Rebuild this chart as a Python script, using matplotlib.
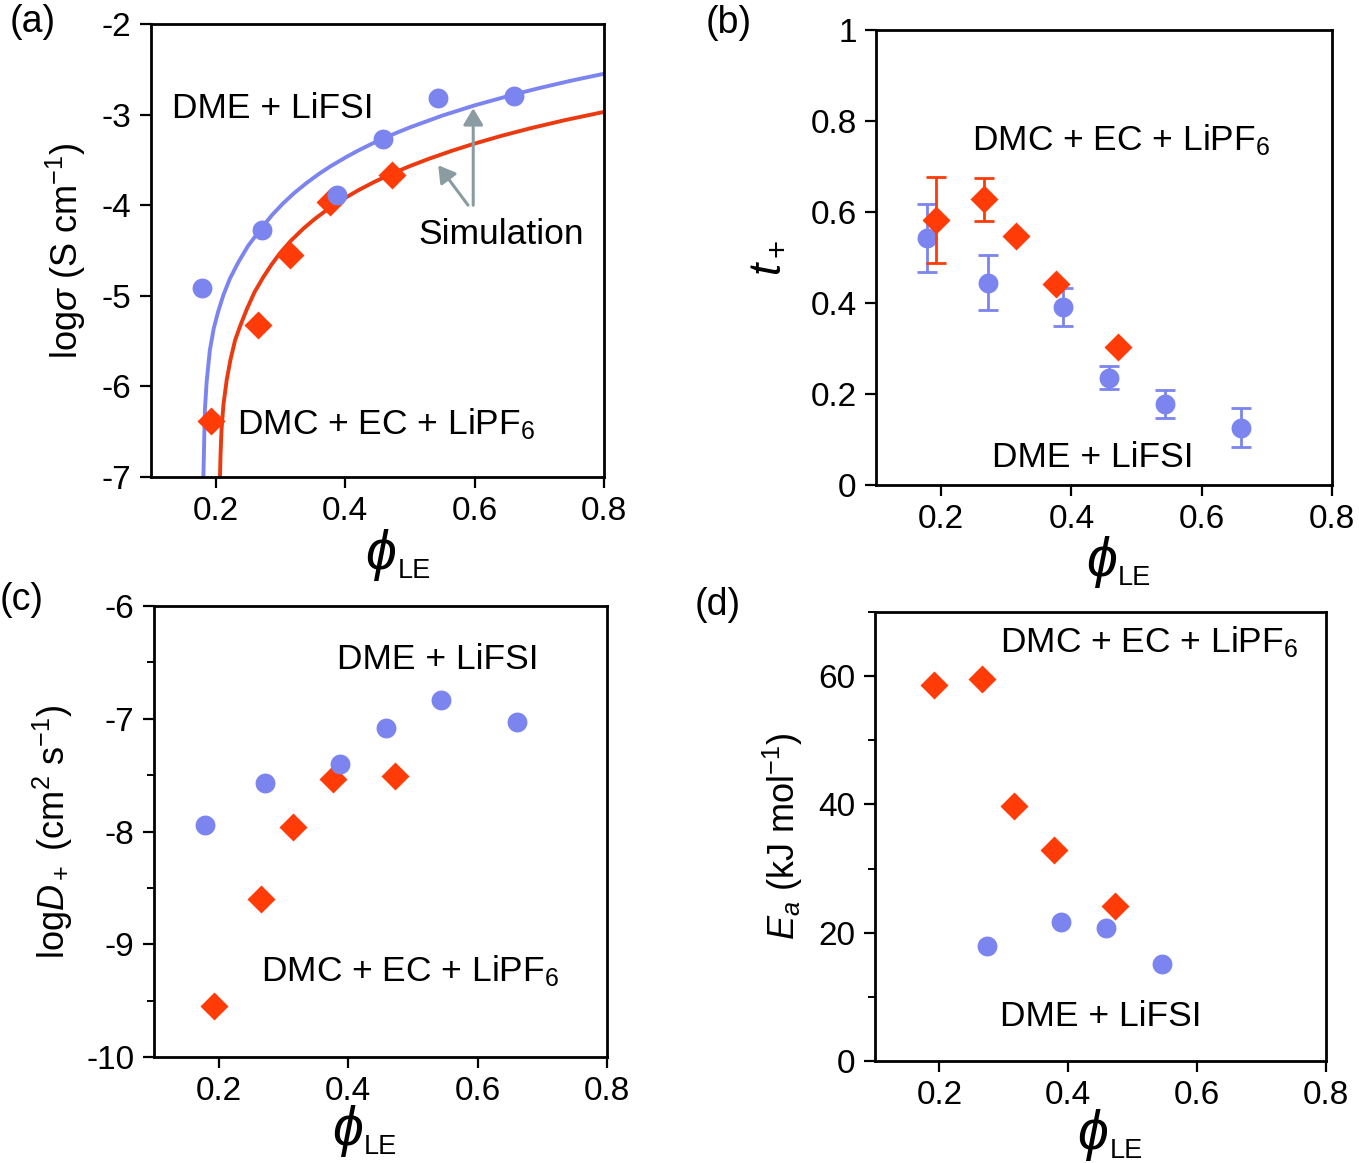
import matplotlib
matplotlib.use('Agg')
import matplotlib.pyplot as plt
from matplotlib.ticker import MultipleLocator

plt.rcParams['font.family'] = ['Liberation Sans', 'DejaVu Sans']
plt.rcParams['mathtext.fontset'] = 'custom'
plt.rcParams['mathtext.rm'] = 'Liberation Sans'
plt.rcParams['mathtext.it'] = 'Liberation Sans:italic'
plt.rcParams['mathtext.bf'] = 'Liberation Sans:bold'
plt.rcParams['axes.unicode_minus'] = False

# Farben
blau = '#7b84ef'
rot = '#ff3b08'
rot_linie = '#ec3a10'
grau = '#8a9ca1'

# Volumenanteil phi_LE der beiden Elektrolyte
phi_dme = [0.179, 0.272, 0.387, 0.458, 0.544, 0.661]
phi_dmc = [0.192, 0.266, 0.315, 0.377, 0.472]

# (a) Leitfaehigkeit log sigma
logsig_dme = [-4.91, -4.27, -3.89, -3.27, -2.82, -2.80]
logsig_dmc = [-6.38, -5.32, -4.55, -3.96, -3.67]

# (a) Simulationskurven
sim_phi_dme = [0.1805, 0.181, 0.1825, 0.1834, 0.186, 0.191, 0.197, 0.204, 0.212, 0.222,
               0.235, 0.250, 0.271, 0.287, 0.304, 0.322, 0.341, 0.360, 0.377, 0.400,
               0.420, 0.440, 0.459, 0.480, 0.500, 0.550, 0.600, 0.660, 0.700, 0.750,
               0.800]
sim_sig_dme = [-7.2, -7.0, -6.5, -6.25, -5.95, -5.60, -5.36, -5.17, -4.99, -4.81,
               -4.63, -4.45, -4.250, -4.110, -3.981, -3.862, -3.752, -3.653, -3.573, -3.476,
               -3.398, -3.327, -3.264, -3.200, -3.142, -3.012, -2.899, -2.780, -2.708, -2.625,
               -2.550]
sim_phi_dmc = [0.2063, 0.2066, 0.2075, 0.209, 0.212, 0.217, 0.223, 0.230, 0.238, 0.248,
               0.260, 0.274, 0.286, 0.299, 0.316, 0.335, 0.353, 0.372, 0.395, 0.420,
               0.445, 0.472, 0.500, 0.530, 0.565, 0.598, 0.640, 0.686, 0.740, 0.800]
sim_sig_dmc = [-7.2, -7.0, -6.75, -6.48, -6.2, -5.93, -5.70, -5.49, -5.33, -5.15,
               -4.96, -4.79, -4.659, -4.533, -4.394, -4.262, -4.153, -4.051, -3.942, -3.837,
               -3.744, -3.654, -3.569, -3.487, -3.400, -3.325, -3.238, -3.152, -3.061, -2.971]

# (b) Ueberfuehrungszahl t+
t_dme = [0.543, 0.445, 0.391, 0.236, 0.178, 0.126]
t_dme_err = [0.075, 0.06, 0.042, 0.025, 0.03, 0.043]
t_dmc = [0.582, 0.628, 0.548, 0.441, 0.304]
t_dmc_err = [0.094, 0.047, 0.0, 0.0, 0.0]

# (c) Diffusionskoeffizient log D+
logD_dme = [-7.94, -7.57, -7.40, -7.08, -6.83, -7.03]
logD_dmc = [-9.55, -8.60, -7.96, -7.53, -7.51]

# (d) Aktivierungsenergie Ea
phi_dme_ea = [0.274, 0.388, 0.459, 0.545]
ea_dme = [18.0, 21.7, 20.7, 15.2]
ea_dmc = [58.6, 59.5, 39.7, 32.9, 24.2]

x_ticks = [0.2, 0.4, 0.6, 0.8]
x_ticklabels = ['0.2', '0.4', '0.6', '0.8']
t_ticks = [0, 0.2, 0.4, 0.6, 0.8, 1]
t_ticklabels = ['0', '0.2', '0.4', '0.6', '0.8', '1']

fs_tick = 24
fs_text = 25.5
fs_label = 26
ms = 14.3

fig = plt.figure(figsize=(13.59, 11.63), dpi=100)
ax_a = fig.add_axes([0.1111, 0.5899, 0.3333, 0.3895])
ax_b = fig.add_axes([0.6446, 0.5830, 0.3355, 0.3912])
ax_c = fig.add_axes([0.1133, 0.0911, 0.3333, 0.3878])
ax_d = fig.add_axes([0.6439, 0.0877, 0.3319, 0.3861])


def phi_label(ax, x, y):
    # grosses phi, kleiner tiefgestellter Index "LE"
    ax.text(x, y + 0.02, r'$\phi$', fontsize=40, ha='right', va='baseline',
            transform=ax.transAxes)
    ax.text(x + 0.003, y, 'LE', fontsize=19.5, ha='left', va='baseline',
            transform=ax.transAxes)


for ax in [ax_a, ax_b, ax_c, ax_d]:
    ax.set_xlim(0.1, 0.8)
    ax.set_xticks(x_ticks)
    ax.set_xticklabels(x_ticklabels)
    ax.tick_params(which='major', direction='out', length=8, width=1.6,
                   labelsize=fs_tick, pad=6)
    ax.tick_params(which='minor', direction='out', length=5, width=1.4)
    for s in ax.spines.values():
        s.set_linewidth(2.0)

phi_label(ax_a, 0.541, -0.223)
phi_label(ax_b, 0.528, -0.220)
phi_label(ax_c, 0.461, -0.215)
phi_label(ax_d, 0.517, -0.216)

# (a)
ax_a.plot(sim_phi_dme, sim_sig_dme, color=blau, lw=2.8, zorder=2)
ax_a.plot(sim_phi_dmc, sim_sig_dmc, color=rot_linie, lw=2.8, zorder=2)
ax_a.plot(phi_dmc, logsig_dmc, 'D', color=rot, ms=ms, mec='none', zorder=3)
ax_a.plot(phi_dme, logsig_dme, 'o', color=blau, ms=ms, mec='none', zorder=4)
ax_a.set_ylim(-7, -2)
ax_a.set_yticks([-7, -6, -5, -4, -3, -2])
ax_a.set_ylabel(r'log$\sigma$ (S cm$^{-1}$)', fontsize=fs_label, labelpad=10)
ax_a.text(0.132, -3.04, 'DME + LiFSI', fontsize=fs_text)
ax_a.text(0.233, -6.53, r'DMC + EC + LiPF$_6$', fontsize=fs_text)
ax_a.text(0.513, -4.43, 'Simulation', fontsize=fs_text)
pfeil = dict(arrowstyle='-|>,head_length=0.5,head_width=0.3', color=grau, lw=2.2,
             mutation_scale=20, shrinkA=0, shrinkB=0)
ax_a.annotate('', xy=(0.598, -2.93), xytext=(0.598, -4.0), arrowprops=pfeil)
ax_a.annotate('', xy=(0.544, -3.56), xytext=(0.590, -4.0), arrowprops=pfeil)

# (b)
ax_b.errorbar(phi_dme, t_dme, yerr=t_dme_err, fmt='o', color=blau, ms=ms, mec='none',
              elinewidth=2, capsize=7.5, capthick=2, zorder=3)
ax_b.errorbar(phi_dmc, t_dmc, yerr=t_dmc_err, fmt='D', color=rot, ms=ms, mec='none',
              elinewidth=2, capsize=7.5, capthick=2, zorder=4)
ax_b.set_ylim(0, 1)
ax_b.set_yticks(t_ticks)
ax_b.set_yticklabels(t_ticklabels)
ax_b.set_ylabel(r'$t_+$', fontsize=32, labelpad=16)
ax_b.text(0.248, 0.736, r'DMC + EC + LiPF$_6$', fontsize=fs_text)
ax_b.text(0.278, 0.040, 'DME + LiFSI', fontsize=fs_text)

# (c)
ax_c.plot(phi_dmc, logD_dmc, 'D', color=rot, ms=ms, mec='none', zorder=3)
ax_c.plot(phi_dme, logD_dme, 'o', color=blau, ms=ms, mec='none', zorder=4)
ax_c.set_ylim(-10, -6)
ax_c.set_yticks([-10, -9, -8, -7, -6])
ax_c.yaxis.set_minor_locator(MultipleLocator(0.5))
ax_c.set_ylabel(r'log$D_+$ (cm$^2$ s$^{-1}$)', fontsize=fs_label, labelpad=8)
ax_c.text(0.383, -6.56, 'DME + LiFSI', fontsize=fs_text)
ax_c.text(0.266, -9.33, r'DMC + EC + LiPF$_6$', fontsize=fs_text)

# (d)
ax_d.plot(phi_dmc, ea_dmc, 'D', color=rot, ms=ms, mec='none', zorder=3)
ax_d.plot(phi_dme_ea, ea_dme, 'o', color=blau, ms=ms, mec='none', zorder=4)
ax_d.set_ylim(0, 70)
ax_d.set_yticks([0, 20, 40, 60])
ax_d.yaxis.set_minor_locator(MultipleLocator(10))
ax_d.set_ylabel(r'$E_a$ (kJ mol$^{-1}$)', fontsize=fs_label, labelpad=10)
ax_d.text(0.294, 63.7, r'DMC + EC + LiPF$_6$', fontsize=fs_text)
ax_d.text(0.294, 5.5, 'DME + LiFSI', fontsize=fs_text)

# Panelbeschriftungen
fig.text(10 / 1359, 1 - 4 / 1163, '(a)', fontsize=27, va='top')
fig.text(706 / 1359, 1 - 5 / 1163, '(b)', fontsize=27, va='top')
fig.text(0 / 1359, 1 - 582 / 1163, '(c)', fontsize=27, va='top')
fig.text(695 / 1359, 1 - 587 / 1163, '(d)', fontsize=27, va='top')

fig.savefig('out.png', dpi=100)
